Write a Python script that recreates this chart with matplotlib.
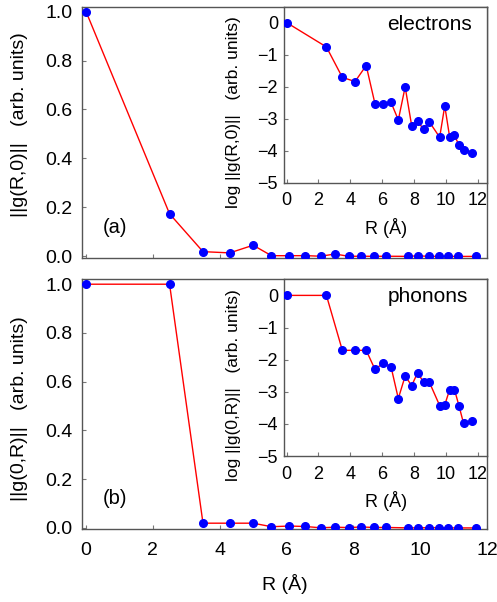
import numpy as np
import matplotlib
matplotlib.use("Agg")
import matplotlib.pyplot as plt

plt.rcParams['font.family'] = ['Liberation Sans', 'DejaVu Sans']

# distances R (Angstrom), shared by both panels
R = [0.0, 2.5, 3.5, 4.3, 5.0, 5.55, 6.08, 6.56, 7.02, 7.45, 7.86,
     8.23, 8.61, 8.97, 9.62, 9.94, 10.25, 10.55, 10.83, 11.12, 11.67]

# electrons: ||g(R,0)||
g_el = [1.0, 0.174, 0.0195, 0.0145, 0.0457, 0.003, 0.003, 0.0032, 0.0009,
        0.0098, 0.0006, 0.0008, 0.0005, 0.0008, 0.0003, 0.0025, 0.0003,
        0.0003, 0.00015, 0.0001, 0.0001]
log_el = [0.0, -0.76, -1.71, -1.84, -1.34, -2.53, -2.53, -2.49, -3.04, -2.01,
          -3.22, -3.08, -3.33, -3.10, -3.58, -2.60, -3.58, -3.51, -3.83,
          -3.98, -4.06]

# phonons: ||g(0,R)||
g_ph = [1.0, 1.0, 0.0195, 0.0195, 0.0195, 0.005, 0.0078, 0.006, 0.0006,
        0.0031, 0.0015, 0.0039, 0.002, 0.002, 0.0004, 0.0004, 0.0012,
        0.0012, 0.0004, 0.0001, 0.00012]
log_ph = [0.0, 0.0, -1.71, -1.71, -1.71, -2.30, -2.11, -2.22, -3.21, -2.51,
          -2.81, -2.41, -2.70, -2.70, -3.43, -3.41, -2.93, -2.93, -3.43,
          -3.98, -3.91]

main_ticks = [0, 2, 4, 6, 8, 10, 12]
main_yticks = [0.0, 0.2, 0.4, 0.6, 0.8, 1.0]
inset_yticks = [0, -1, -2, -3, -4, -5]

spine_col = '#555555'
line_kw = dict(color='red', lw=1.0, marker='o', ms=5.5,
               mfc='#0000ff', mec='#0000ff', zorder=3)

fig = plt.figure(figsize=(4.97, 6.02), dpi=100)


def style(ax, fs, xpad, ypad):
    for s in ax.spines.values():
        s.set_color(spine_col)
        s.set_linewidth(1.0)
    ax.tick_params(direction='in', length=3, width=0.8, color='#777777',
                   labelsize=fs)
    ax.tick_params(axis='x', pad=xpad)
    ax.tick_params(axis='y', pad=ypad)


def main_panel(rect, y, ylabel, tag, show_x, ly):
    ax = fig.add_axes(rect)
    ax.plot(R, y, **line_kw)
    ax.set_xlim(-0.12, 12.0)
    ax.set_ylim(-0.005, 1.02)
    ax.set_xticks(main_ticks)
    ax.set_yticks(main_yticks)
    ax.set_yticklabels(['%.1f' % v for v in main_yticks])
    style(ax, 14, 9.5, 7)
    if show_x:
        ax.set_xlabel('R (Å)', fontsize=14)
        ax.xaxis.set_label_coords(0.5, -0.18)
    else:
        ax.set_xticklabels([])
    ax.set_ylabel(ylabel, fontsize=14)
    ax.yaxis.set_label_coords(-0.133, ly)
    ax.text(0.87, 0.12, tag, fontsize=14.5, ha='center', va='center')
    return ax


def inset_panel(rect, y, ylabel, name):
    ax = fig.add_axes(rect)
    ax.plot(R, y, **line_kw)
    ax.set_xlim(-0.15, 12.6)
    ax.set_ylim(-5, 0.5)
    ax.set_xticks(main_ticks)
    ax.set_yticks(inset_yticks)
    style(ax, 13, 7, 4.5)
    ax.set_xlabel('R (Å)', fontsize=13)
    ax.xaxis.set_label_coords(0.5, -0.20)
    ax.set_ylabel(ylabel, fontsize=12.5)
    ax.yaxis.set_label_coords(-0.215, 0.40)
    ax.text(0.508, 0.90, name, fontsize=15, ha='left', va='center',
            transform=ax.transAxes)
    return ax


main_panel([0.165, 0.572, 0.815, 0.417], g_el,
           '||g(R,0)||   (arb. units)', '(a)', False, 0.529)
main_panel([0.165, 0.121, 0.815, 0.415], g_ph,
           '||g(0,R)||   (arb. units)', '(b)', True, 0.484)

inset_panel([0.572, 0.6965, 0.408, 0.2925], log_el,
            'log ||g(R,0)||   (arb. units)', 'electrons')
inset_panel([0.572, 0.2425, 0.408, 0.2935], log_ph,
            'log ||g(0,R)||   (arb. units)', 'phonons')

fig.savefig('out.png', dpi=100)
